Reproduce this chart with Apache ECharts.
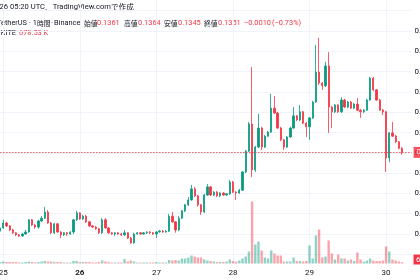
<!DOCTYPE html>
<html><head><meta charset="utf-8">
<script src="https://cdn.jsdelivr.net/npm/echarts@6/dist/echarts.min.js"></script>
<style>html,body{margin:0;padding:0;background:#fff;}#c{width:420px;height:280px;}</style>
</head><body><div id="c"></div>
<script>
// hourly bars, first bar = day 24 23:00 UTC, last = day 30 05:00 UTC
const dayLabels = ['24','25','26','27','28','29','30'];
const firstHour = 23;
const boldDays = ['26'];

const openP = [
0.1157,0.1165,0.1177,0.1170,0.1160,0.1153,0.1148,0.1145,0.1150,0.1155,
0.1185,0.1172,0.1167,0.1182,0.1189,0.1204,0.1177,0.1153,0.1175,0.1155,
0.1148,0.1153,0.1150,0.1155,0.1185,0.1202,0.1187,0.1194,0.1180,0.1170,
0.1167,0.1163,0.1153,0.1185,0.1165,0.1153,0.1150,0.1153,0.1150,0.1148,
0.1153,0.1140,0.1128,0.1150,0.1153,0.1150,0.1153,0.1155,0.1153,0.1150,
0.1155,0.1157,0.1155,0.1157,0.1194,0.1180,0.1160,0.1189,0.1207,0.1222,
0.1234,0.1261,0.1244,0.1222,0.1204,0.1246,0.1266,0.1246,0.1253,0.1244,
0.1251,0.1246,0.1249,0.1278,0.1253,0.1251,0.1258,0.1303,0.1354,0.1421,
0.1308,0.1364,0.1411,0.1364,0.1391,0.1401,0.1460,0.1448,0.1411,0.1382,
0.1364,0.1389,0.1411,0.1441,0.1431,0.1451,0.1423,0.1414,0.1436,0.1475,
0.1549,0.1522,0.1515,0.1564,0.1463,0.1451,0.1468,0.1451,0.1480,0.1463,
0.1475,0.1460,0.1470,0.1455,0.1451,0.1455,0.1480,0.1534,0.1505,0.1480,
0.1455,0.1451,0.1337,0.1399,0.1391,0.1377,0.1361];
const closeP = [
0.1165,0.1177,0.1170,0.1160,0.1153,0.1148,0.1145,0.1150,0.1155,0.1185,
0.1172,0.1167,0.1182,0.1189,0.1204,0.1177,0.1153,0.1175,0.1155,0.1148,
0.1153,0.1150,0.1155,0.1185,0.1202,0.1187,0.1194,0.1180,0.1170,0.1167,
0.1163,0.1153,0.1185,0.1165,0.1153,0.1150,0.1153,0.1150,0.1148,0.1153,
0.1140,0.1128,0.1150,0.1153,0.1150,0.1153,0.1155,0.1153,0.1150,0.1155,
0.1157,0.1155,0.1157,0.1194,0.1180,0.1160,0.1189,0.1207,0.1222,0.1234,
0.1261,0.1244,0.1222,0.1204,0.1246,0.1266,0.1246,0.1253,0.1244,0.1251,
0.1246,0.1249,0.1278,0.1253,0.1251,0.1258,0.1303,0.1354,0.1421,0.1308,
0.1364,0.1411,0.1364,0.1391,0.1401,0.1460,0.1448,0.1411,0.1382,0.1364,
0.1389,0.1411,0.1441,0.1431,0.1451,0.1423,0.1414,0.1436,0.1475,0.1549,
0.1522,0.1515,0.1564,0.1463,0.1451,0.1468,0.1451,0.1480,0.1463,0.1475,
0.1460,0.1470,0.1455,0.1451,0.1455,0.1480,0.1534,0.1505,0.1480,0.1455,
0.1451,0.1337,0.1399,0.1391,0.1377,0.1361,0.1351];
const lowP = [
0.1155,0.1163,0.1167,0.1157,0.1150,0.1145,0.1143,0.1143,0.1148,0.1153,
0.1170,0.1163,0.1163,0.1180,0.1187,0.1175,0.1150,0.1150,0.1153,0.1140,
0.1145,0.1145,0.1148,0.1150,0.1182,0.1185,0.1185,0.1177,0.1167,0.1165,
0.1160,0.1150,0.1150,0.1163,0.1150,0.1148,0.1145,0.1148,0.1145,0.1145,
0.1138,0.1126,0.1126,0.1148,0.1148,0.1148,0.1150,0.1150,0.1148,0.1140,
0.1153,0.1153,0.1153,0.1155,0.1177,0.1153,0.1157,0.1187,0.1204,0.1219,
0.1232,0.1241,0.1217,0.1197,0.1202,0.1244,0.1244,0.1244,0.1241,0.1241,
0.1244,0.1244,0.1246,0.1251,0.1234,0.1249,0.1256,0.1300,0.1352,0.1290,
0.1303,0.1362,0.1357,0.1362,0.1389,0.1399,0.1446,0.1409,0.1379,0.1357,
0.1362,0.1387,0.1409,0.1428,0.1428,0.1421,0.1389,0.1382,0.1433,0.1473,
0.1517,0.1505,0.1512,0.1399,0.1411,0.1448,0.1448,0.1448,0.1460,0.1460,
0.1458,0.1458,0.1453,0.1436,0.1448,0.1453,0.1478,0.1502,0.1478,0.1453,
0.1443,0.1303,0.1327,0.1389,0.1374,0.1359,0.1345];
const highP = [
0.1167,0.1185,0.1180,0.1172,0.1163,0.1155,0.1150,0.1153,0.1160,0.1187,
0.1187,0.1175,0.1185,0.1194,0.1217,0.1209,0.1180,0.1177,0.1177,0.1157,
0.1155,0.1155,0.1157,0.1187,0.1207,0.1204,0.1197,0.1197,0.1182,0.1172,
0.1170,0.1165,0.1189,0.1189,0.1167,0.1155,0.1155,0.1155,0.1153,0.1160,
0.1155,0.1143,0.1153,0.1155,0.1155,0.1155,0.1157,0.1157,0.1155,0.1157,
0.1160,0.1160,0.1160,0.1199,0.1204,0.1182,0.1194,0.1209,0.1224,0.1241,
0.1271,0.1266,0.1246,0.1224,0.1249,0.1273,0.1268,0.1256,0.1256,0.1253,
0.1253,0.1251,0.1283,0.1281,0.1256,0.1261,0.1305,0.1357,0.1426,0.1561,
0.1367,0.1446,0.1414,0.1394,0.1404,0.1495,0.1490,0.1451,0.1414,0.1384,
0.1391,0.1414,0.1463,0.1443,0.1468,0.1453,0.1426,0.1438,0.1478,0.1616,
0.1633,0.1524,0.1574,0.1598,0.1465,0.1470,0.1470,0.1487,0.1483,0.1478,
0.1478,0.1473,0.1485,0.1458,0.1458,0.1483,0.1537,0.1537,0.1507,0.1483,
0.1458,0.1453,0.1401,0.1426,0.1394,0.1379,0.1364];
// volume in millions of KITE
const volumeM = [
0.75,1.0,0.75,0.75,0.75,0.75,0.5,0.5,0.75,1.0,
0.75,0.5,0.75,1.0,1.25,1.0,1.0,0.75,0.75,0.75,
0.5,0.5,0.5,1.25,1.25,0.75,0.75,0.75,0.75,0.5,
0.5,0.75,1.5,1.0,0.75,0.5,0.5,0.5,0.5,2.25,
1.0,1.5,1.0,0.5,0.5,0.5,0.5,0.5,0.5,0.75,
0.5,0.5,0.5,1.75,1.5,1.75,1.5,2.5,2.5,3.0,
4.0,3.5,3.0,3.0,2.0,1.5,1.25,1.0,0.75,0.75,
0.75,1.0,2.0,1.25,1.0,1.5,2.5,3.5,6.0,31.0,
9.5,11.0,6.5,3.0,2.5,6.5,5.0,4.0,4.0,1.0,
1.0,1.0,3.0,1.25,1.25,1.0,1.25,9.0,2.5,14.0,
17.0,3.0,3.5,11.5,5.0,2.0,4.5,2.5,2.5,1.5,
2.0,1.25,5.5,2.0,1.0,1.5,2.5,1.5,1.25,1.25,
1.5,8.5,6.0,2.0,1.5,1.0,0.68];
const lastVolumeText = '678.53 K';
const priceMin = 0.110, priceMax = 0.170, priceStep = 0.005;

const UP = '#089981', DOWN = '#F23645';
const UPV = 'rgba(8,153,129,0.45)', DOWNV = 'rgba(242,54,69,0.45)';
const GRIDC = '#f0f3fa';
const LATIN = 'Roboto, sans-serif';
const CJK = '"Noto Sans CJK JP", sans-serif';
const TXT = '#131722';

const N = openP.length, PAD = 3;
const cats = [];
for (let j = 0; j < N + PAD; j++) {
  const h = firstHour + j;
  cats.push(j < N ? dayLabels[Math.floor(h / 24)] + ' ' + String(h % 24).padStart(2, '0') + ':00' : 'pad' + j);
}
const isMidnight = (i, v) => /00:00$/.test(v);
const candles = openP.map((o, i) => [o, closeP[i], lowP[i], highP[i]]);
const vols = volumeM.map((v, i) => ({ value: v, itemStyle: { color: closeP[i] >= openP[i] ? UPV : DOWNV } }));
const lastClose = closeP[N - 1];

const gl = 0.1, gw = 411.5;
const chart = echarts.init(document.getElementById('c'), null, { renderer: 'canvas' });
function t(x, y, text, color, align, cjk) {
  return { type: 'text', x: x, y: y, style: { text: text, fill: color, font: (cjk ? '6.8px ' + CJK : '7.4px ' + LATIN), textAlign: align || 'left', textVerticalAlign: 'middle' } };
}
const gridBase = { outerBoundsMode: 'none', containLabel: false };
chart.setOption({
  animation: false,
  backgroundColor: '#ffffff',
  grid: [
    Object.assign({ left: gl, top: 10.7, width: gw, height: 243.6 }, gridBase),
    Object.assign({ left: gl, top: 183.5, width: gw, height: 80 }, gridBase),
    Object.assign({ left: gl, top: 0, width: gw, height: 265 }, gridBase)
  ],
  xAxis: [
    { gridIndex: 0, type: 'category', data: cats, boundaryGap: false, show: false },
    { gridIndex: 1, type: 'category', data: cats, boundaryGap: false, show: false },
    { gridIndex: 2, type: 'category', data: cats, boundaryGap: false,
      axisLine: { show: false }, axisTick: { show: false },
      splitLine: { show: true, interval: isMidnight, lineStyle: { color: GRIDC, width: 1 } },
      axisLabel: { interval: isMidnight, margin: 4, fontSize: 8, color: TXT, fontFamily: LATIN,
        formatter: v => { const d = v.split(' ')[0]; return boldDays.includes(d) ? '{b|' + d + '}' : d; },
        rich: { b: { fontWeight: 'bold', fontSize: 8, color: TXT, fontFamily: LATIN } } } }
  ],
  yAxis: [
    { gridIndex: 0, type: 'value', position: 'right', min: priceMin, max: priceMax, interval: priceStep,
      axisLine: { show: false }, axisTick: { show: false },
      splitLine: { show: true, lineStyle: { color: GRIDC, width: 1 } },
      axisLabel: { margin: 3, fontSize: 8, color: TXT, fontFamily: LATIN, showMaxLabel: false, showMinLabel: false,
        formatter: v => v.toFixed(4) } },
    { gridIndex: 1, type: 'value', min: 0, max: 40, show: false },
    { gridIndex: 2, type: 'value', min: 0, max: 1, show: false }
  ],
  series: [
    { type: 'bar', xAxisIndex: 1, yAxisIndex: 1, data: vols, barWidth: 2.4, z: 1, silent: true },
    { type: 'candlestick', xAxisIndex: 0, yAxisIndex: 0, data: candles, barWidth: 1.8, z: 3, silent: true,
      itemStyle: { color: UP, color0: DOWN, borderColor: UP, borderColor0: DOWN, borderWidth: 0.8 },
      markLine: { symbol: 'none', silent: true, animation: false, precision: 4,
        data: [{ yAxis: lastClose }],
        lineStyle: { color: DOWN, type: [1.5, 1.5], width: 1, opacity: 0.85 },
        label: { show: true, position: 'end', distance: 2, formatter: lastClose.toFixed(4),
          backgroundColor: DOWN, color: '#fff', fontSize: 8, fontFamily: LATIN, padding: [2, 3, 1, 3] },
        emphasis: { disabled: true } } }
  ],
  graphic: [
    { type: 'text', x: -9, y: 7, style: {
        text: '{l|2026 05:20 UTC}{c|、}{l|TradingView.com}{c|で作成}', textAlign: 'left', textVerticalAlign: 'middle',
        rich: { l: { font: '7.6px ' + LATIN, fill: TXT }, c: { font: '7.6px ' + CJK, fill: TXT } } } },
    t(27, 23.5, 'TetherUS', TXT, 'right'),
    t(29, 23.5, '· 1', TXT), t(37, 23.5, '時間', TXT, 'left', true), t(51, 23.5, '·', TXT),
    t(54, 23.5, 'Binance', TXT),
    t(84, 23.5, '始値', TXT, 'left', true), t(97, 23.5, '0.1361', DOWN),
    t(124, 23.5, '高値', TXT, 'left', true), t(138, 23.5, '0.1364', DOWN),
    t(164, 23.5, '安値', TXT, 'left', true), t(178, 23.5, '0.1345', DOWN),
    t(204, 23.5, '終値', TXT, 'left', true), t(218, 23.5, '0.1351', DOWN),
    t(244, 23.5, '−0.0010', DOWN), t(272, 23.5, '(−0.73%)', DOWN),
    t(16, 33.5, '出来高 KITE', TXT, 'right'),
    t(19, 33.5, lastVolumeText, DOWN),
    { type: 'group', children: [
      { type: 'rect', shape: { x: 413.5, y: 254.5, width: 40, height: 10 }, style: { fill: DOWN } },
      { type: 'text', x: 416, y: 259.8, style: { text: lastVolumeText, fill: '#fff', font: '8px ' + LATIN, textVerticalAlign: 'middle' } }
    ] }
  ]
});
</script></body></html>
